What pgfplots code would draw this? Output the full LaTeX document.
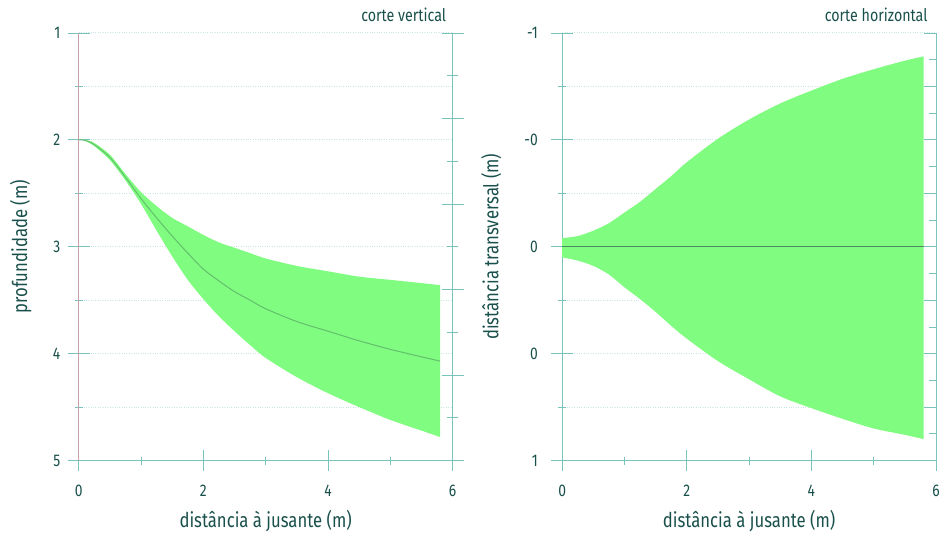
\documentclass[border=0pt]{standalone}
\usepackage{pgfplots}
\pgfplotsset{compat=1.18}
\usepgfplotslibrary{fillbetween}
\usepackage{pgfplotstable}
\usepackage{fontspec}
\setmainfont{Fira Sans}[FakeStretch=0.82]
\definecolor{txt}{RGB}{25,80,75}
\definecolor{axc}{RGB}{120,195,188}
\definecolor{axl}{RGB}{195,160,168}
\definecolor{grd}{RGB}{200,230,226}
\definecolor{band}{RGB}{128,252,128}
\definecolor{mid}{RGB}{80,150,95}
\definecolor{zer}{RGB}{60,110,90}

\pgfplotstableread{
x top bot mid
0 2.00 2.00 2.00
0.1 2.00 2.01 2.005
0.25 2.03 2.06 2.045
0.5 2.14 2.19 2.165
0.75 2.32 2.38 2.35
1.0 2.49 2.60 2.55
1.25 2.62 2.85 2.73
1.5 2.73 3.09 2.90
1.75 2.81 3.31 3.06
2.0 2.89 3.49 3.21
2.25 2.96 3.65 3.32
2.5 3.01 3.79 3.42
2.75 3.06 3.92 3.50
3.0 3.11 4.04 3.58
3.5 3.18 4.22 3.70
4.0 3.23 4.37 3.79
4.5 3.28 4.50 3.88
5.0 3.31 4.62 3.96
5.5 3.34 4.72 4.03
5.8 3.36 4.78 4.07
}\vertdata

\pgfplotstableread{
x top bot
0 -0.04 0.05
0.25 -0.05 0.065
0.5 -0.075 0.09
0.75 -0.11 0.13
1.0 -0.16 0.19
1.25 -0.21 0.245
1.5 -0.27 0.305
1.75 -0.33 0.37
2.0 -0.395 0.43
2.5 -0.505 0.535
3.0 -0.595 0.62
3.5 -0.67 0.70
4.0 -0.73 0.755
4.5 -0.785 0.805
5.0 -0.83 0.85
5.5 -0.87 0.88
5.8 -0.89 0.90
}\horzdata

\pgfplotsset{
  base/.style={
    scale only axis, width=375bp, height=429bp,
    xmin=0, xmax=6, y dir=reverse,
    axis x line*=bottom, axis y line*=left,
    axis line style={-, axc, line width=0.7pt},
    xtick={0,2,4,6}, minor xtick={1,3,5},
    tick align=center, major tick length=22bp, minor tick length=8bp,
    tick style={axc, line width=0.7pt},
    every tick label/.append style={text=txt, font=\fontsize{17}{19}\selectfont},
    xticklabel style={yshift=-10bp},
    yticklabel style={xshift=-4bp},
    /pgf/number format/assume math mode=true,
    label style={text=txt, font=\fontsize{20.5}{23}\selectfont},
    xlabel style={yshift=-7bp},
    ymajorgrids, yminorgrids,
    major grid style={grd, dotted, line width=0.8pt},
    minor grid style={grd, dotted, line width=0.8pt},
    xlabel={distância à jusante (m)},
    clip=false,
  },
  sec/.style={
    scale only axis, width=375bp, height=429bp,
    xmin=0, xmax=6, y dir=reverse,
    axis x line=none, axis y line*=right,
    axis line style={-, axc, line width=0.7pt},
    tick align=center, major tick length=22bp, minor tick length=11bp,
    tick style={axc, line width=0.7pt},
    yticklabels={},
  }
}

\begin{document}
\begin{tikzpicture}
\path (0bp,0bp) rectangle (943bp,532bp);

% left panel
\begin{axis}[base, at={(79bp,70bp)}, anchor=south west,
  ymin=1, ymax=5, ytick={1,2,3,4,5}, minor ytick={1.5,2.5,3.5,4.5},
  y axis line style={axl},
  ylabel={profundidade (m)},
  ylabel style={at={(axis description cs:-0.155,0.5)}, anchor=center},
]
\addplot[name path=A, draw=none, smooth] table[x=x,y=top]{\vertdata};
\addplot[name path=B, draw=none, smooth] table[x=x,y=bot]{\vertdata};
\addplot[band, draw=none] fill between[of=A and B];
\addplot[mid, line width=1pt, smooth, opacity=0.6] table[x=x,y=mid]{\vertdata};
\node[anchor=base east, text=txt, font=\fontsize{17.5}{19}\selectfont, yshift=11bp, xshift=-3bp] at (rel axis cs:1,1) {corte vertical};
\end{axis}
\begin{axis}[sec, at={(79bp,70bp)}, anchor=south west,
  ymin=1, ymax=5, ytick={1,1.8,2.6,3.4,4.2,5}, minor ytick={1.4,2.2,3.0,3.8,4.6}]
\addplot[draw=none] coordinates {(0,1) (6,5)};
\end{axis}

% right panel
\begin{axis}[base, at={(564bp,70bp)}, anchor=south west,
  ymin=-1, ymax=1, ytick={-1,-0.5,0,0.5,1}, yticklabels={-1,-0,0,0,1},
  minor ytick={-0.75,-0.25,0.25,0.75},
  yticklabel style={xshift=-6bp},
  ylabel={distância transversal (m)},
  ylabel style={at={(axis description cs:-0.19,0.5)}, anchor=center},
]
\addplot[name path=A, draw=none, smooth] table[x=x,y=top]{\horzdata};
\addplot[name path=B, draw=none, smooth] table[x=x,y=bot]{\horzdata};
\addplot[band, draw=none] fill between[of=A and B];
\addplot[zer, line width=0.8pt, opacity=0.8] coordinates {(0,0) (6,0)};
\node[anchor=base east, text=txt, font=\fontsize{17.5}{19}\selectfont, yshift=11bp, xshift=-5bp] at (rel axis cs:1,1) {corte horizontal};
\end{axis}
\begin{axis}[sec, at={(564bp,70bp)}, anchor=south west, tick align=inside,
  major tick length=12bp, minor tick length=7bp,
  ymin=-1, ymax=1, ytick={-1,-0.75,-0.5,-0.25,0,0.25,0.5,0.75,1},
  minor ytick={-0.875,-0.625,-0.375,-0.125,0.125,0.375,0.625,0.875}]
\addplot[draw=none] coordinates {(0,-1) (6,1)};
\end{axis}
\end{tikzpicture}
\end{document}
